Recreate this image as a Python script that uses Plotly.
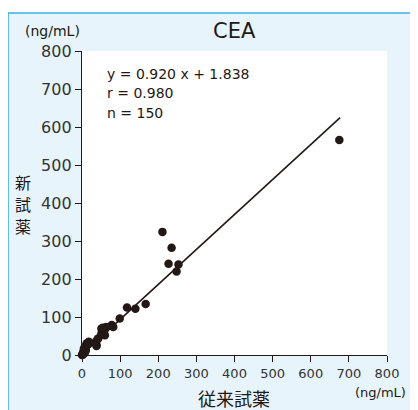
import plotly.graph_objects as go

# data (ng/mL)
conv_x = [0, 1, 2, 3, 3, 4, 5, 5, 6, 7, 8, 8, 10, 10, 12, 12, 14, 15, 16, 18,
          36, 38, 38, 40, 43, 51, 51, 55, 56, 60, 60, 64, 78, 82,
          99, 118, 140, 167,
          211, 235, 227, 253, 248, 675]
new_y = [0, 1, 3, 2, 6, 10, 8, 17, 12, 5, 15, 22, 20, 12, 25, 30, 30, 31, 28, 35,
         35, 24, 26, 40, 44, 57, 70, 72, 66, 52, 68, 74, 79, 74,
         96, 125, 122, 134,
         324, 282, 240, 238, 220, 566]
slope = 0.920
intercept = 1.838
fit_x = [0, 677]
fit_y = [slope * v + intercept for v in fit_x]
ticks = [0, 100, 200, 300, 400, 500, 600, 700, 800]
y_title_chars = ["新", "試", "薬"]

# page has an 8px body margin; work in page pixels and convert
OFF = 8
W, H = 418 - OFF, 410 - OFF
PL, PR, PT, PB = 82, 387, 51, 355.5  # plot area in page pixels
ML, MR, MT, MB = PL - OFF, 418 - PR, PT - OFF, 410 - PB
PW, PH = W - ML - MR, H - MT - MB


def px(x):
    return (x - PL) / PW


def py(y):
    return (PB - y) / PH


ink = "#231815"
fig = go.Figure()
fig.add_trace(go.Scatter(x=fit_x, y=fit_y, mode="lines",
                         line=dict(color=ink, width=1.6), showlegend=False,
                         hoverinfo="skip"))
fig.add_trace(go.Scatter(x=conv_x, y=new_y, mode="markers",
                         marker=dict(color=ink, size=8.5), cliponaxis=False,
                         showlegend=False))

axis_common = dict(range=[0, 800], tickvals=ticks, showgrid=False, zeroline=False,
                   showline=True, linecolor=ink, linewidth=1.3, ticks="outside",
                   ticklen=6, tickcolor=ink, tickwidth=1.2, fixedrange=True,
                   automargin=False)
fig.update_xaxes(**axis_common, tickfont=dict(family="DejaVu Sans", size=13, color="#333"))
fig.update_yaxes(**axis_common, tickfont=dict(family="DejaVu Sans", size=16, color="#333"))

shapes = [
    dict(type="rect", xref="paper", yref="paper", x0=px(8), x1=px(440), y0=py(13), y1=py(440),
         fillcolor="#e7f4fc", line=dict(color="#3cb1e4", width=1.6), layer="below"),
    dict(type="rect", xref="paper", yref="paper", x0=0, x1=1, y0=0, y1=1,
         fillcolor="white", line=dict(width=0), layer="below"),
]

anns = [
    dict(text="CEA", x=px(234), y=py(31), font=dict(size=21, family="DejaVu Sans", color=ink)),
    dict(text="(ng/mL)", x=px(52), y=py(31), font=dict(size=14, family="DejaVu Sans", color=ink)),
    dict(text="(ng/mL)", x=px(380), y=py(393), font=dict(size=13, family="DejaVu Sans", color=ink)),
    dict(text="従来試薬", x=px(234), y=py(399), font=dict(size=18, family="Noto Sans CJK JP", color=ink)),
    dict(text="y = 0.920 x + 1.838", x=px(105), y=py(74), xanchor="left",
         font=dict(size=14, family="DejaVu Sans", color=ink)),
    dict(text="r = 0.980", x=px(105), y=py(93.5), xanchor="left",
         font=dict(size=14, family="DejaVu Sans", color=ink)),
    dict(text="n = 150", x=px(105), y=py(113), xanchor="left",
         font=dict(size=14, family="DejaVu Sans", color=ink)),
]
for i, ch in enumerate(y_title_chars):
    anns.append(dict(text=ch, x=px(23), y=py(182 + 22 * i),
                     font=dict(size=16, family="Noto Sans CJK JP", color=ink)))
for a in anns:
    a.setdefault("xanchor", "center")
    a.update(xref="paper", yref="paper", yanchor="middle", showarrow=False)

fig.update_layout(width=W, height=H, margin=dict(l=ML, r=MR, t=MT, b=MB, pad=0),
                  paper_bgcolor="white", plot_bgcolor="white",
                  shapes=shapes, annotations=anns)
fig.write_html("out.html")
